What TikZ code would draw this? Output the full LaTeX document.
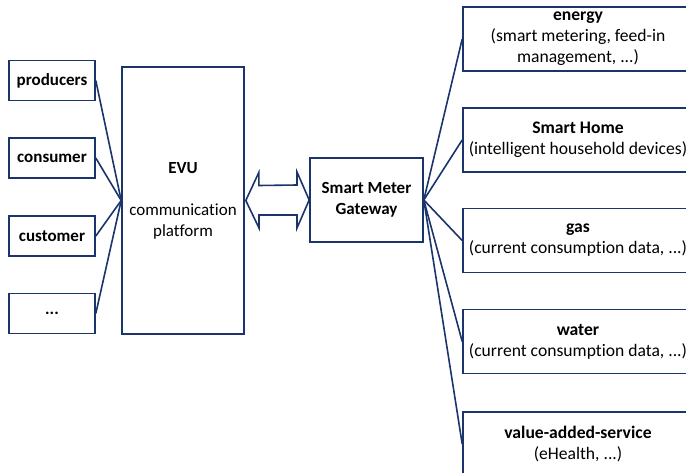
\documentclass[tikz,border=0pt]{standalone}
\usepackage{fontspec}
\setmainfont[Ligatures=NoCommon]{Carlito}
\definecolor{navy}{RGB}{28,52,108}
\begin{document}
\begin{tikzpicture}[x=1pt,y=-1pt,
  box/.style={draw=navy,line width=1.6pt,fill=white,inner sep=1pt,align=center,
    font=\fontsize{17}{21}\selectfont},
  leftbox/.style={box,minimum width=86pt,minimum height=40pt},
  rightbox/.style={box,minimum width=230pt,minimum height=64pt,
    font=\fontsize{17.6}{21}\selectfont},
  link/.style={draw=navy,line width=1.6pt}]
\useasboundingbox (0,0) rectangle (686,472);
\clip (0,0) rectangle (686,472);
% left boxes
\node[leftbox] (prod) at (52,80.5) {\textbf{producers}};
\node[leftbox] (cons) at (52,158) {\textbf{consumer}};
\node[leftbox] (cust) at (52,236) {\textbf{customer}};
\node[leftbox] (more) at (52,313.5) {\textbf{...}};
% EVU
\node[box,minimum width=122pt,minimum height=267pt] (evu) at (183,200.5)
  {\textbf{EVU}\\[21pt]communication\\platform};
% gateway
\node[box,minimum width=113pt,minimum height=84pt] (gw) at (366.5,200)
  {\textbf{Smart Meter}\\\textbf{Gateway}};
% right boxes
\node[rightbox] (energy) at (578,39) {\textbf{energy}\\(smart metering, feed-in\\management, ...)};
\node[rightbox] (home) at (578,140) {\textbf{Smart Home}\\(intelligent household devices)};
\node[rightbox] (gas) at (578,240.5) {\textbf{gas}\\(current consumption data, ...)};
\node[rightbox] (water) at (578,341.5) {\textbf{water}\\(current consumption data, ...)};
\node[rightbox] (vas) at (578,444) {\textbf{value-added-service}\\(eHealth, ...)};
% connectors
\foreach \n in {prod,cons,cust,more} \draw[link] (\n.east) -- (evu.west);
\foreach \n in {energy,home,gas,water,vas} \draw[link] (gw.east) -- (\n.west);
% double arrow
\draw[navy,line width=1.6pt,fill=white,line join=miter]
  (evu.east) ++(1,0) coordinate (la)
  (la) -- ++(13,-28) -- ++(0,13) -- (297,185) -- (297,172)
  -- (gw.west) -- (297,228) -- (297,215) -- (259,215) -- (259,228) -- cycle;
\end{tikzpicture}
\end{document}
